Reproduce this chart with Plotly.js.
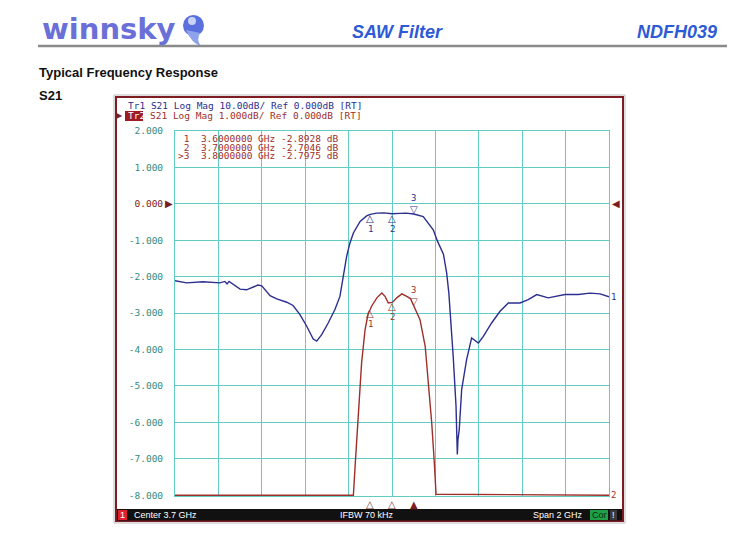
<!DOCTYPE html>
<html>
<head>
<meta charset="utf-8">
<script src="https://cdn.plot.ly/plotly-3.0.1.min.js"></script>
<style>html,body{margin:0;padding:0;background:#fff;}#chart{width:750px;height:535px;}</style>
</head>
<body>
<div id="chart"></div>
<script>
// ---- Data ----
// Trace 1 (Tr1, 10 dB/div), frequency in GHz, S21 in dB
const freqBlue = [2.700,2.754,2.829,2.907,2.930,2.940,2.949,2.963,3.000,3.030,3.082,3.100,3.138,3.169,3.215,3.244,3.276,3.307,3.337,3.353,3.376,3.406,3.437,3.460,3.476,3.491,3.506,3.522,3.553,3.583,3.600,3.630,3.663,3.700,3.737,3.765,3.800,3.844,3.890,3.910,3.937,3.952,3.962,3.970,3.982,3.995,4.001,4.004,4.010,4.021,4.044,4.067,4.078,4.098,4.121,4.159,4.198,4.236,4.290,4.328,4.367,4.420,4.497,4.559,4.612,4.659,4.700];
const dbBlue   = [-21.1,-21.7,-21.4,-21.7,-21.3,-22.0,-21.3,-21.9,-23.4,-23.6,-22.3,-22.5,-25.2,-26.1,-27.0,-27.9,-30.4,-33.6,-37.1,-37.7,-35.9,-32.7,-29.0,-25.4,-19.9,-14.4,-10.8,-8.0,-4.85,-3.3,-2.89,-2.55,-2.47,-2.70,-2.60,-2.55,-2.80,-3.5,-7.1,-10.3,-13.8,-19.0,-24.5,-30.5,-41.8,-55.5,-68.8,-64.7,-61.9,-51.0,-42.7,-36.8,-37.3,-38.2,-36.4,-32.7,-29.5,-27.2,-27.2,-26.3,-24.9,-25.8,-24.9,-24.9,-24.5,-24.7,-25.5];
// Trace 2 (Tr2, 1 dB/div), values below the scale are shown at the bottom line
const freqRed = [2.700,3.522,3.530,3.545,3.560,3.576,3.591,3.600,3.606,3.630,3.653,3.668,3.683,3.700,3.706,3.722,3.745,3.768,3.785,3.800,3.829,3.853,3.867,3.883,3.895,3.903,4.700];
const dbRed   = [-8,-8,-7.20,-5.73,-4.36,-3.45,-2.99,-2.8928,-2.81,-2.58,-2.45,-2.54,-2.72,-2.7046,-2.68,-2.58,-2.47,-2.54,-2.60,-2.7975,-3.18,-3.91,-4.82,-6.01,-7.10,-7.97,-8];
// Markers
const markerNum  = [1, 2, 3];
const markerFreq = [3.6, 3.7, 3.8];
const markerDb   = [-2.8928, -2.7046, -2.7975];
const activeMarker = 3;
// Axis ticks (Tr2 scale)
const yTicks = [2, 1, 0, -1, -2, -3, -4, -5, -6, -7, -8];
const headerTexts = ["SAW Filter", "NDFH039"];
const statusTexts = ["Center 3.7 GHz", "IFBW 70 kHz", "Span 2 GHz"];
const traceHeaders = ["Tr1 S21 Log Mag 10.00dB/ Ref 0.000dB [RT]", "S21 Log Mag 1.000dB/ Ref 0.000dB [RT]"];

// ---- Helpers ----
const W = 750, H = 535;
const px = x => x / W;
const py = y => 1 - y / H;
const NB = '\u00a0';

const GRID = '#63cbc6';
const TEAL = '#2f8c82';
const BLUE = '#2b2f8f';
const RED = '#9e2f2a';
const DARKRED = '#7d1c22';
const MONO = 'DejaVu Sans Mono';

const traces = [
  {x: freqRed, y: dbRed, type: 'scatter', mode: 'lines', xaxis: 'x', yaxis: 'y',
   line: {color: RED, width: 1.4}, hoverinfo: 'skip'},
  {x: freqBlue, y: dbBlue, type: 'scatter', mode: 'lines', xaxis: 'x', yaxis: 'y2',
   line: {color: BLUE, width: 1.4}, hoverinfo: 'skip'}
];

const annotations = [];
const shapes = [];

// Header
annotations.push({xref:'paper', yref:'paper', x:px(40), y:py(29), xanchor:'left', yanchor:'middle', showarrow:false,
  text:'<b>winnsky</b>', font:{family:'DejaVu Sans', size:29, color:'#6a70d8'}});
shapes.push({type:'circle', xref:'paper', yref:'paper', x0:px(183), x1:px(204), y0:py(15), y1:py(36), fillcolor:'#5a70de', line:{width:0}});
shapes.push({type:'path', xref:'paper', yref:'paper',
  path:`M ${px(186)} ${py(30)} Q ${px(192)} ${py(44)} ${px(201)} ${py(46)} Q ${px(196)} ${py(40)} ${px(200)} ${py(33)} Z`,
  fillcolor:'#8fa2ec', line:{width:0}});
shapes.push({type:'circle', xref:'paper', yref:'paper', x0:px(188), x1:px(196), y0:py(17), y1:py(25), fillcolor:'#c9d3f7', line:{width:0}});
annotations.push({xref:'paper', yref:'paper', x:px(397), y:py(32), xanchor:'center', yanchor:'middle', showarrow:false,
  text:'<b><i>'+headerTexts[0]+'</i></b>', font:{family:'Liberation Sans', size:18, color:'#2d5ad6'}});
annotations.push({xref:'paper', yref:'paper', x:px(719), y:py(32), xanchor:'right', yanchor:'middle', showarrow:false,
  text:'<b><i>'+headerTexts[1]+'</i></b>', font:{family:'Liberation Sans', size:18, color:'#2d5ad6'}});
shapes.push({type:'line', xref:'paper', yref:'paper', x0:px(38), x1:px(727), y0:py(46), y1:py(46), line:{color:'#8a8a8a', width:2.5}});
annotations.push({xref:'paper', yref:'paper', x:px(37), y:py(73), xanchor:'left', yanchor:'middle', showarrow:false,
  text:'<b>Typical Frequency Response</b>', font:{family:'Liberation Sans', size:13, color:'#111'}});
annotations.push({xref:'paper', yref:'paper', x:px(37), y:py(95), xanchor:'left', yanchor:'middle', showarrow:false,
  text:'<b>S21</b>', font:{family:'Liberation Sans', size:13, color:'#111'}});

// Instrument frame
shapes.push({type:'rect', xref:'paper', yref:'paper', x0:px(114), x1:px(625), y0:py(95), y1:py(523), line:{color:'#bdbdbd', width:1}, fillcolor:'rgba(0,0,0,0)'});
shapes.push({type:'rect', xref:'paper', yref:'paper', x0:px(116), x1:px(623), y0:py(97), y1:py(521), line:{color:DARKRED, width:2}, fillcolor:'rgba(0,0,0,0)'});
// Status bar
shapes.push({type:'rect', xref:'paper', yref:'paper', x0:px(117), x1:px(622), y0:py(509), y1:py(520.5), line:{width:0}, fillcolor:'#111111'});
shapes.push({type:'rect', xref:'paper', yref:'paper', x0:px(118), x1:px(127), y0:py(510), y1:py(520), line:{width:0}, fillcolor:'#e0202a'});
annotations.push({xref:'paper', yref:'paper', x:px(122.5), y:py(515), xanchor:'center', yanchor:'middle', showarrow:false,
  text:'1', font:{family:'Liberation Sans', size:9, color:'#ffffff'}});
annotations.push({xref:'paper', yref:'paper', x:px(132), y:py(515), xanchor:'left', yanchor:'middle', showarrow:false,
  text:statusTexts[0], font:{family:'Liberation Sans', size:9, color:'#ffffff'}});
annotations.push({xref:'paper', yref:'paper', x:px(367), y:py(515), xanchor:'center', yanchor:'middle', showarrow:false,
  text:statusTexts[1], font:{family:'Liberation Sans', size:9, color:'#ffffff'}});
annotations.push({xref:'paper', yref:'paper', x:px(585), y:py(515), xanchor:'right', yanchor:'middle', showarrow:false,
  text:statusTexts[2], font:{family:'Liberation Sans', size:9, color:'#ffffff'}});
shapes.push({type:'rect', xref:'paper', yref:'paper', x0:px(590), x1:px(608), y0:py(510), y1:py(520), line:{width:0}, fillcolor:'#1fa048'});
annotations.push({xref:'paper', yref:'paper', x:px(599), y:py(515), xanchor:'center', yanchor:'middle', showarrow:false,
  text:'Cor', font:{family:'Liberation Sans', size:9, color:'#0b2a10'}});
shapes.push({type:'rect', xref:'paper', yref:'paper', x0:px(610), x1:px(617), y0:py(510), y1:py(520), line:{width:0}, fillcolor:'#3a3a3a'});
annotations.push({xref:'paper', yref:'paper', x:px(613.5), y:py(515), xanchor:'center', yanchor:'middle', showarrow:false,
  text:'!', font:{family:'Liberation Sans', size:9, color:'#ffffff'}});

// Trace header lines
annotations.push({xref:'paper', yref:'paper', x:px(126), y:py(105), xanchor:'left', yanchor:'middle', showarrow:false,
  text:traceHeaders[0].replace(/ /g, NB), font:{family:MONO, size:9.5, color:BLUE}});
shapes.push({type:'rect', xref:'paper', yref:'paper', x0:px(125), x1:px(143), y0:py(111), y1:py(121), line:{width:0}, fillcolor:'#9e1b22'});
annotations.push({xref:'paper', yref:'paper', x:px(126), y:py(116), xanchor:'left', yanchor:'middle', showarrow:false,
  text:'Tr2', font:{family:MONO, size:9.5, color:'#ffffff'}});
annotations.push({xref:'paper', yref:'paper', x:px(125), y:py(116), xanchor:'right', yanchor:'middle', showarrow:false,
  text:'\u25B6', font:{family:'DejaVu Sans', size:8, color:DARKRED}});
annotations.push({xref:'paper', yref:'paper', x:px(148), y:py(116), xanchor:'left', yanchor:'middle', showarrow:false,
  text:traceHeaders[1].replace(/ /g, NB), font:{family:MONO, size:9.5, color:RED}});

// Marker table (one block, tight line spacing)
const tableLines = markerNum.map((n, i) => {
  const prefix = (n === activeMarker ? '>' : NB) + n;
  return prefix + NB + NB + markerFreq[i].toFixed(7) + NB + 'GHz' + NB + markerDb[i].toFixed(4) + NB + 'dB';
});
tableLines.forEach((line, i) => {
  annotations.push({xref:'paper', yref:'paper', x:px(177), y:py(138.5 + i * 8.7), xanchor:'left', yanchor:'middle', showarrow:false,
    borderpad:0, text:line, font:{family:MONO, size:9.5, color:RED}});
});

// Markers on traces
function addMarkers(yref, color) {
  markerNum.forEach((n, i) => {
    const active = n === activeMarker;
    annotations.push({xref:'x', yref:yref, x:markerFreq[i], y:markerDb[i], showarrow:false, borderpad:0,
      xanchor:'center', yanchor: active ? 'bottom' : 'top', yshift: active ? -2 : 2,
      text: active ? '\u25BD' : '\u25B3', font:{family:'DejaVu Sans', size:10, color:color}});
    annotations.push({xref:'x', yref:yref, x:markerFreq[i], y:markerDb[i], showarrow:false, borderpad:0,
      xanchor:'center', yanchor:'middle', yshift: active ? 16 : -15,
      text: String(n), font:{family:MONO, size:9, color:color}});
  });
}
addMarkers('y', RED);
addMarkers('y2', BLUE);

// Bottom marker indicators
markerNum.forEach((n, i) => {
  const active = n === activeMarker;
  annotations.push({xref:'x', yref:'paper', x:markerFreq[i], y:py(496.5), xanchor:'center', yanchor:'top', showarrow:false,
    text: active ? '\u25B2' : '\u25B3', font:{family:'DejaVu Sans', size:10, color: active ? DARKRED : '#7a4040'}});
});

// Reference arrows and trace end labels
annotations.push({xref:'paper', yref:'y', x:px(175), y:0, xanchor:'right', yanchor:'middle', showarrow:false,
  text:'\u25B6', font:{family:'DejaVu Sans', size:10, color:DARKRED}});
annotations.push({xref:'paper', yref:'y', x:px(610), y:0, xanchor:'left', yanchor:'middle', showarrow:false,
  text:'\u25C0', font:{family:'DejaVu Sans', size:10, color:DARKRED}});
annotations.push({xref:'paper', yref:'y2', x:px(609), y:dbBlue[dbBlue.length - 1], xanchor:'left', yanchor:'middle', showarrow:false,
  text:'1', font:{family:MONO, size:9, color:BLUE}});
annotations.push({xref:'paper', yref:'y', x:px(609), y:-8, xanchor:'left', yanchor:'middle', showarrow:false,
  text:'2', font:{family:MONO, size:9, color:RED}});

const layout = {
  width: W, height: H,
  margin: {l:0, r:0, t:0, b:0},
  paper_bgcolor: '#ffffff', plot_bgcolor: '#ffffff',
  showlegend: false,
  xaxis: {domain:[175/W, 609/W], range:[2.7, 4.7], tick0:2.7, dtick:0.2, showticklabels:false, ticks:'',
    showgrid:true, gridcolor:GRID, gridwidth:1, zeroline:false, showline:true, mirror:true, linecolor:GRID, linewidth:1,
    layer:'below traces', fixedrange:true},
  yaxis: {domain:[1-496/H, 1-131/H], range:[-8.02, 2.0], tickmode:'array', tickvals:yTicks,
    ticktext: yTicks.map(v => v === 0 ? '<span style="color:'+DARKRED+'">'+v.toFixed(3)+'</span>' : v.toFixed(3)),
    tickfont:{family:MONO, size:9.5, color:TEAL}, ticks:'', ticklabelstandoff:9,
    showgrid:true, gridcolor:GRID, gridwidth:1, zeroline:false, showline:true, mirror:true, linecolor:GRID, linewidth:1,
    layer:'below traces', fixedrange:true},
  yaxis2: {domain:[1-496/H, 1-131/H], range:[-80.2, 20], overlaying:'y', visible:false, showgrid:false, zeroline:false, fixedrange:true},
  shapes: shapes,
  annotations: annotations
};

Plotly.newPlot('chart', traces, layout, {staticPlot:true, displayModeBar:false});
</script>
</body>
</html>
